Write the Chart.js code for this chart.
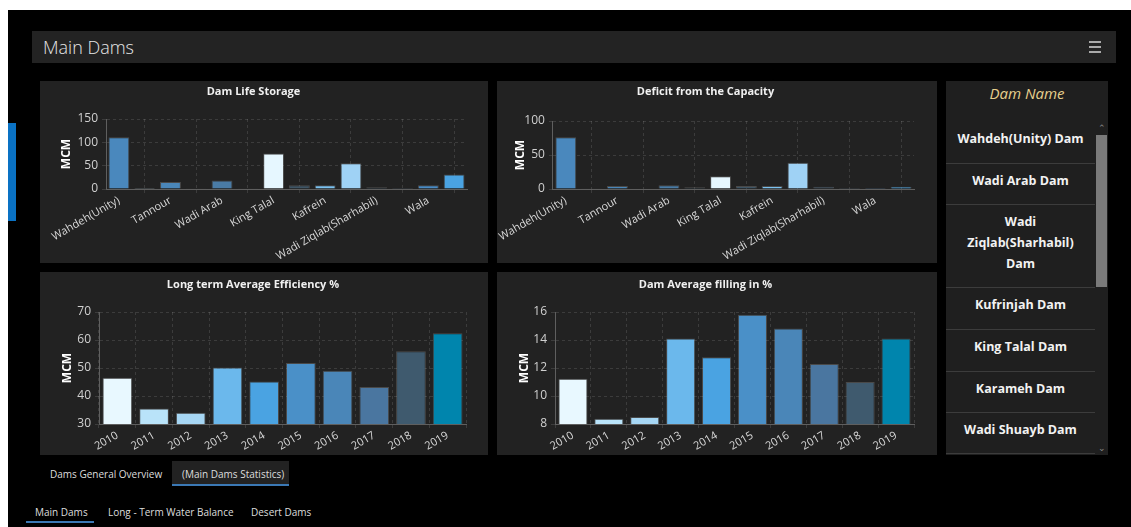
<!DOCTYPE html>
<html>
<head>
<meta charset="utf-8">
<script src="https://cdn.jsdelivr.net/npm/chart.js@4"></script>
<style>
  html, body { margin: 0; padding: 0; }
  body { width: 1131px; height: 527px; background: #fff; position: relative; overflow: hidden; font-family: 'Open Sans', sans-serif; }
  #page { position: absolute; left: 8px; top: 10px; right: 0; bottom: 0; background: #000; }
  .abs { position: absolute; }
  #sideMark { left: 8px; top: 123px; width: 8px; height: 98px; background: #0a72c4; }
  #header { left: 32px; top: 31px; width: 1084px; height: 32px; background: #232323; }
  #header .title { position: absolute; left: 11px; top: 4px; font-size: 18px; font-weight: 300; color: #e6e6e6; }
  #header .menu { position: absolute; right: 15px; top: 10px; width: 12px; }
  #header .menu div { height: 1.5px; background: #aaa; margin-bottom: 3.5px; }
  .panel { background: #222; }
  .panel canvas { display: block; }
  #names { left: 946px; top: 81px; width: 162px; height: 374px; background: #1f1f1f; overflow: hidden; }
  #names .head { position: absolute; left: 0; width: 162px; top: 2px; text-align: center; font-style: italic; font-size: 15px; color: #e7cf8d; }
  #names .item { position: absolute; left: 0; width: 149px; border-bottom: 1px solid #3c3c3c; color: #f2f2f2; font-weight: 700; font-size: 12.5px; line-height: 21px; text-align: center; display: flex; align-items: center; justify-content: center; box-sizing: border-box; }
  #names .track { position: absolute; left: 150px; top: 40px; width: 12px; height: 334px; background: #1f1f1f; }
  #names .thumb { position: absolute; left: 150px; top: 54px; width: 11px; height: 152px; background: #7a7a7a; }
  #names .arrow { position: absolute; left: 151px; width: 10px; font-size: 9px; color: #888; text-align: center; }
  .tab { font-size: 10px; color: #ddd; }
</style>
</head>
<body>
<div id="page"></div>
<div id="sideMark" class="abs"></div>
<div id="header" class="abs">
  <div class="title">Main Dams</div>
  <div class="menu"><div></div><div></div><div></div></div>
</div>

<div class="abs panel" style="left:40px;top:81px;width:448px;height:182px"><canvas id="storageChart" width="448" height="182"></canvas></div>
<div class="abs panel" style="left:497px;top:81px;width:440px;height:182px"><canvas id="deficitChart" width="440" height="182"></canvas></div>
<div class="abs panel" style="left:40px;top:272px;width:448px;height:183px"><canvas id="efficiencyChart" width="448" height="183"></canvas></div>
<div class="abs panel" style="left:497px;top:272px;width:440px;height:183px"><canvas id="fillingChart" width="440" height="183"></canvas></div>

<div id="names" class="abs">
  <div class="head">Dam Name</div>
  <div class="item" style="top:32px;height:51px">Wahdeh(Unity) Dam</div>
  <div class="item" style="top:83px;height:41px;padding-bottom:8px">Wadi Arab Dam</div>
  <div class="item" style="top:124px;height:83px;padding-bottom:8px">Wadi<br>Ziqlab(Sharhabil)<br>Dam</div>
  <div class="item" style="top:207px;height:42px;padding-bottom:8px">Kufrinjah Dam</div>
  <div class="item" style="top:249px;height:42px;padding-bottom:8px">King Talal Dam</div>
  <div class="item" style="top:291px;height:41px;padding-bottom:8px">Karameh Dam</div>
  <div class="item" style="top:332px;height:41px;padding-bottom:8px">Wadi Shuayb Dam</div>
  <div class="track"></div>
  <div class="thumb"></div>
  <div class="arrow" style="top:40px">&#8963;</div>
  <div class="arrow" style="top:360px">&#8964;</div>
</div>

<div class="abs tab" style="left:50px;top:467px">Dams General Overview</div>
<div class="abs" style="left:172px;top:461px;width:117px;height:23px;background:#222;border-bottom:2px solid #3b78b4"></div>
<div class="abs tab" style="left:182px;top:467px">(Main Dams Statistics)</div>
<div class="abs tab" style="left:35px;top:505px">Main Dams</div>
<div class="abs" style="left:26px;top:521px;width:68px;height:2px;background:#3b78b4"></div>
<div class="abs tab" style="left:108px;top:505px">Long - Term Water Balance</div>
<div class="abs tab" style="left:251px;top:505px">Desert Dams</div>

<script>
// data
const damNames = ['Wahdeh(Unity)', 'Wadi Shuayb', 'Tannour', 'Kufrinjah', 'Wadi Arab', 'Ibn Hammad',
    'King Talal', 'Wadi Al Karak', 'Kafrein', 'Karameh', 'Wadi Ziqlab(Sharhabil)', 'Lajjoun', 'Wala', 'Mujib'];
const lifeStorage = [111, 2, 15, 1.5, 18, 1.5, 76, 8, 8, 55, 3.5, 2, 8, 31];
const capacityDeficit = [76, 0.5, 4.4, 0, 5.4, 2.5, 18.6, 4.4, 4.4, 38.7, 3.4, 1.5, 1.5, 3.4];

const years = ['2010', '2011', '2012', '2013', '2014', '2015', '2016', '2017', '2018', '2019'];
const avgEfficiency = [46.5, 35.5, 34.0, 50.2, 45.2, 51.8, 49.0, 43.2, 56.0, 62.4];
const avgFilling = [11.24, 8.38, 8.5, 14.1, 12.76, 15.8, 14.83, 12.29, 11.0, 14.1];

const damColors = ['#4a88bd', '#c9e6f5', '#4a86b8', '#556b78', '#4a7ba5', '#3d505c', '#e6f7ff',
    '#3f5565', '#7cc2f0', '#9fd2f5', '#45596a', '#4c6478', '#4a8bc4', '#4aa3e2'];
const yearColors = ['#e8f8ff', '#b9e3f9', '#a6d6f4', '#6bb8ec', '#4aa3e2', '#4a90c8',
    '#4a86b8', '#4a76a0', '#3f5a6e', '#0085ad'];

Chart.defaults.font.family = "'Open Sans', sans-serif";
Chart.defaults.color = '#d0d0d0';

const gridColor = 'rgba(255,255,255,0.12)';
const axisColor = '#5f5f5f';

function makeChart(id, cfg) {
    const ctx = document.getElementById(id).getContext('2d');
    return new Chart(ctx, {
        type: 'bar',
        data: {
            labels: cfg.labels,
            datasets: [{
                data: cfg.values,
                backgroundColor: cfg.colors,
                borderColor: 'rgba(255,255,255,0.18)',
                borderWidth: 1,
                categoryPercentage: 0.9,
                barPercentage: 0.9
            }]
        },
        options: {
            responsive: false,
            animation: false,
            layout: {
                padding: { left: 0, right: cfg.padRight, top: 0, bottom: 0 }
            },
            plugins: {
                legend: { display: false },
                tooltip: { enabled: false },
                title: {
                    display: true,
                    text: cfg.title,
                    color: '#f0f0f0',
                    font: { size: 11, weight: 'bold' },
                    padding: { top: cfg.titleTop, bottom: cfg.titleBottom }
                }
            },
            scales: {
                x: {
                    grid: { color: gridColor, tickLength: 4 },
                    border: { color: axisColor, dash: [3, 3] },
                    ticks: {
                        color: '#d8d8d8',
                        font: { size: 11 },
                        minRotation: 30,
                        maxRotation: 30,
                        autoSkip: false,
                        padding: 1,
                        // the dashboard only prints every second dam name
                        callback: cfg.skipOdd
                            ? function(value, index) { return index % 2 ? null : this.getLabelForValue(value); }
                            : function(value) { return this.getLabelForValue(value); }
                    },
                    afterFit: (scale) => { scale.height = cfg.xHeight; }
                },
                y: {
                    min: cfg.min,
                    max: cfg.max,
                    grid: { color: gridColor, tickLength: 4 },
                    border: { color: axisColor, dash: [3, 3] },
                    ticks: { stepSize: cfg.step, color: '#d0d0d0', font: { size: 12 }, padding: 4 },
                    title: {
                        display: true,
                        text: 'MCM',
                        color: '#ffffff',
                        font: { size: 12, weight: 'bold' },
                        padding: { top: cfg.yTitlePad, bottom: 0 }
                    },
                    afterFit: (scale) => { scale.width = cfg.yWidth; }
                }
            }
        }
    });
}

makeChart('storageChart', {
    title: 'Dam Life Storage', labels: damNames, values: lifeStorage, colors: damColors,
    min: 0, max: 150, step: 50, skipOdd: true,
    padRight: 21, titleTop: 4, titleBottom: 20.8, xHeight: 74, yWidth: 66, yTitlePad: 19.8
});
makeChart('deficitChart', {
    title: 'Deficit from the Capacity', labels: damNames, values: capacityDeficit, colors: damColors,
    min: 0, max: 100, step: 50, skipOdd: true,
    padRight: 23, titleTop: 4, titleBottom: 22.8, xHeight: 74, yWidth: 53, yTitlePad: 13.8
});
makeChart('efficiencyChart', {
    title: 'Long term Average Efficiency %', labels: years, values: avgEfficiency, colors: yearColors,
    min: 30, max: 70, step: 10, skipOdd: false,
    padRight: 22, titleTop: 6, titleBottom: 20.8, xHeight: 31, yWidth: 59, yTitlePad: 20.8
});
makeChart('fillingChart', {
    title: 'Dam Average filling in %', labels: years, values: avgFilling, colors: yearColors,
    min: 8, max: 16, step: 2, skipOdd: false,
    padRight: 23, titleTop: 6, titleBottom: 20.8, xHeight: 31, yWidth: 58, yTitlePad: 20.8
});
</script>
</body>
</html>
